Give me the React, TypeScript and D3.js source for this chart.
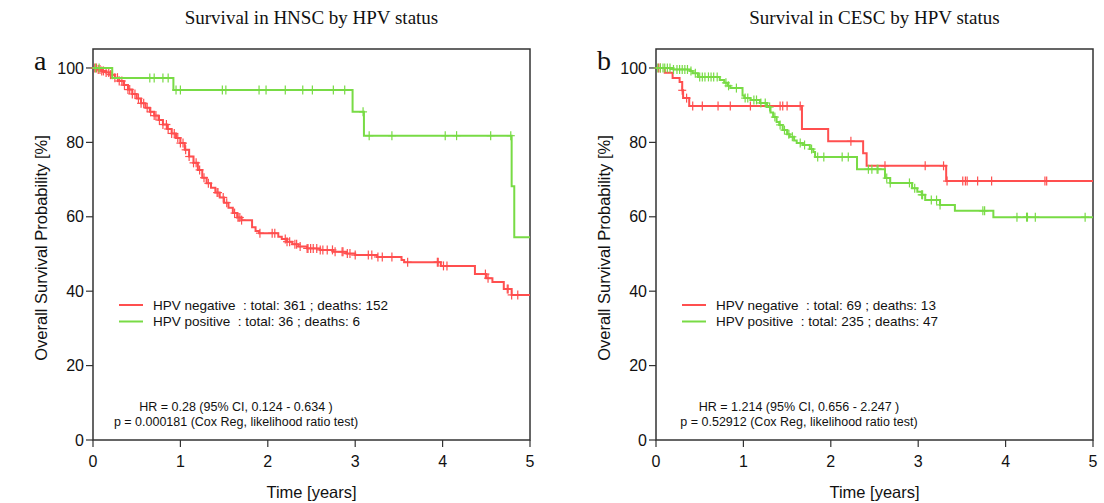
import React from "react";
import * as d3 from "d3";

// ---------- data ----------
const xTicks = [0, 1, 2, 3, 4, 5];
const yTicks = [0, 20, 40, 60, 80, 100];

// HNSC panel
const hnscNegSteps: [number, number][] = [
  [0, 100], [0.05, 99.6], [0.1, 99.2], [0.15, 98.8], [0.2, 98.2], [0.25, 97.4], [0.3, 96.5],
  [0.35, 95.4], [0.4, 94.2], [0.45, 93], [0.5, 91.8], [0.55, 90.5], [0.6, 89.3], [0.65, 88.2],
  [0.7, 87.2], [0.75, 86], [0.8, 84.8], [0.85, 83.6], [0.9, 82.4], [0.95, 81.2], [1.0, 79.8],
  [1.05, 78], [1.1, 76.2], [1.15, 74.5], [1.2, 72.6], [1.25, 70.5], [1.3, 69], [1.35, 67.8],
  [1.4, 66.5], [1.45, 65.2], [1.5, 63.8], [1.55, 62.4], [1.6, 61], [1.65, 59.8], [1.7, 59.1],
  [1.82, 57.2], [1.86, 56.2], [1.9, 55.6], [2.12, 54.6], [2.16, 54.0], [2.22, 53.3], [2.28, 52.6],
  [2.35, 52], [2.45, 51.5], [2.6, 51.1], [2.75, 50.6], [2.9, 50.1], [3.0, 49.7], [3.25, 49.2],
  [3.53, 48.4], [3.56, 47.8], [3.98, 46.8], [4.37, 44.6], [4.5, 43.5], [4.57, 42.5], [4.7, 40.6],
  [4.79, 39],
];
const hnscNegCensor = [
  0.02, 0.04, 0.06, 0.08, 0.1, 0.12, 0.15, 0.18, 0.2, 0.22, 0.25, 0.28, 0.3, 0.33, 0.36, 0.4,
  0.42, 0.45, 0.48, 0.52, 0.55, 0.58, 0.62, 0.66, 0.7, 0.72, 0.76, 0.8, 0.84, 0.86, 0.9, 0.93,
  0.97, 1.0, 1.03, 1.06, 1.1, 1.15, 1.18, 1.22, 1.27, 1.32, 1.42, 1.43, 1.49, 1.53, 1.62, 1.66,
  1.68, 1.7, 1.91, 2.05, 2.08, 2.2, 2.22, 2.25, 2.31, 2.33, 2.37, 2.45, 2.46, 2.49, 2.52, 2.56,
  2.6, 2.63, 2.68, 2.74, 2.77, 2.85, 2.86, 2.91, 2.94, 3.0, 3.15, 3.19, 3.26, 3.31, 3.42, 3.6,
  3.94, 3.95, 4.01, 4.05, 4.49, 4.52, 4.74, 4.75, 4.79, 4.86,
];
const hnscPosSteps: [number, number][] = [
  [0, 100], [0.22, 97.3], [0.92, 94.1], [2.97, 88.2], [3.1, 81.8], [4.79, 68.2], [4.82, 54.5],
];
const hnscPosCensor = [
  0.03, 0.07, 0.65, 0.7, 0.8, 0.86, 0.95, 1.0, 1.48, 1.52, 1.9, 1.98, 2.2, 2.4, 2.51, 2.75, 2.88,
  3.09, 3.16, 3.42, 4.03, 4.16, 4.55, 4.78,
];

// CESC panel
const cescNegSteps: [number, number][] = [
  [0, 100], [0.1, 98.7], [0.19, 97.3], [0.27, 96.2], [0.3, 94], [0.31, 91.9], [0.38, 89.8],
  [1.67, 83.6], [1.97, 80.3], [2.37, 77.1], [2.41, 73.7], [3.32, 69.6],
];
const cescNegCensor = [
  0.03, 0.05, 0.3, 0.35, 0.42, 0.53, 0.71, 0.85, 1.08, 1.42, 1.45, 1.5, 1.65, 2.23, 2.62, 3.08,
  3.29, 3.33, 3.51, 3.54, 3.56, 3.68, 3.84, 4.45, 4.47,
];
const cescPosSteps: [number, number][] = [
  [0, 100], [0.2, 99.6], [0.39, 99.2], [0.42, 98.6], [0.48, 97.6], [0.73, 96.8], [0.78, 96],
  [0.82, 95.2], [0.85, 94.6], [0.99, 92.6], [1.01, 91.9], [1.08, 91.4], [1.19, 90.6], [1.27, 89.5],
  [1.31, 88], [1.34, 86.8], [1.38, 85.5], [1.41, 84.7], [1.45, 83.3], [1.5, 82.2], [1.53, 81.5],
  [1.58, 80.5], [1.61, 79.8], [1.68, 79.3], [1.76, 78.2], [1.8, 77.4], [1.82, 76.1], [2.3, 72.8],
  [2.62, 70.4], [2.68, 69.1], [2.93, 67.7], [2.99, 66.7], [3.04, 65.9], [3.08, 64.5], [3.25, 63.2],
  [3.42, 61.6], [3.86, 59.9],
];
const cescPosCensor = [
  0.02, 0.05, 0.08, 0.1, 0.13, 0.16, 0.2, 0.24, 0.27, 0.3, 0.33, 0.36, 0.4, 0.45, 0.5, 0.53,
  0.56, 0.6, 0.63, 0.66, 0.7, 0.8, 0.83, 0.92, 1.02, 1.05, 1.12, 1.15, 1.2, 1.25, 1.3, 1.36,
  1.42, 1.47, 1.52, 1.56, 1.65, 1.7, 1.78, 1.85, 1.92, 2.13, 2.2, 2.43, 2.47, 2.53, 2.54, 2.64,
  2.68, 2.9, 2.96, 3.04, 3.05, 3.15, 3.21, 3.25, 3.74, 3.76, 4.13, 4.24, 4.25, 4.34, 4.91,
];

const hnscLegend = [
  "HPV negative  : total: 361 ; deaths: 152",
  "HPV positive  : total: 36 ; deaths: 6",
];
const cescLegend = [
  "HPV negative  : total: 69 ; deaths: 13",
  "HPV positive  : total: 235 ; deaths: 47",
];

const RED = "#ff4f4f";
const GREEN = "#78db45";
const SANS = "'Liberation Sans', Arial, Helvetica, sans-serif";
const SERIF = "'Liberation Serif', 'Times New Roman', serif";

type Series = { steps: [number, number][]; censor: number[]; color: string };

function Panel(props: {
  left: number;
  title: string;
  letter: string;
  series: Series[];
  legend: string[];
  hr: string;
  p: string;
}) {
  const { left, title, letter, series, legend, hr, p } = props;
  const x = d3.scaleLinear().domain([0, 5]).range([left, left + 437]);
  const y = d3.scaleLinear().domain([0, 105.1]).range([440, 49]);
  const line = d3
    .line<[number, number]>()
    .x((d) => x(d[0]))
    .y((d) => y(d[1]))
    .curve(d3.curveStepAfter);
  const bis = d3.bisector((d: [number, number]) => d[0]).right;
  const cx = (x(0) + x(5)) / 2;
  const legendX = left + 26;
  return (
    <g>
      <text x={cx} y={24} textAnchor="middle" fontFamily={SERIF} fontSize={19} fill="#111">
        {title}
      </text>
      <text x={left - 59} y={70} fontFamily={SERIF} fontSize={28} fill="#111">
        {letter}
      </text>
      <rect x={x(0)} y={y(105.1)} width={x(5) - x(0)} height={y(0) - y(105.1)} fill="none" stroke="#333" strokeWidth={1.5} />
      {yTicks.map((t) => (
        <g key={"y" + t}>
          <line x1={x(0) - 7} x2={x(0)} y1={y(t)} y2={y(t)} stroke="#333" strokeWidth={1.2} />
          <text x={x(0) - 9} y={y(t)} dy="0.35em" textAnchor="end" fontFamily={SANS} fontSize={16} fill="#111">
            {t}
          </text>
        </g>
      ))}
      {xTicks.map((t) => (
        <g key={"x" + t}>
          <line x1={x(t)} x2={x(t)} y1={y(0)} y2={y(0) + 7} stroke="#333" strokeWidth={1.2} />
          <text x={x(t)} y={467} textAnchor="middle" fontFamily={SANS} fontSize={16} fill="#111">
            {t}
          </text>
        </g>
      ))}
      <text x={cx} y={498} textAnchor="middle" fontFamily={SANS} fontSize={16.5} fill="#111">
        Time [years]
      </text>
      <text
        transform={`translate(${left - 46},${248}) rotate(-90)`}
        textAnchor="middle"
        fontFamily={SANS}
        fontSize={16.5}
        fill="#111"
      >
        Overall Survival Probability [%]
      </text>
      {series.map((s, i) => {
        const pts: [number, number][] = [...s.steps, [5, s.steps[s.steps.length - 1][1]]];
        return (
          <g key={"s" + i}>
            <path d={line(pts) || ""} fill="none" stroke={s.color} strokeWidth={2} />
            {s.censor.map((c, j) => {
              const v = s.steps[Math.max(0, bis(s.steps, c) - 1)][1];
              const px = x(c);
              const py = y(v);
              return (
                <g key={j} stroke={s.color} strokeWidth={1.2}>
                  <line x1={px} x2={px} y1={py - 4.5} y2={py + 4.5} />
                  <line x1={px - 4} x2={px + 4} y1={py} y2={py} />
                </g>
              );
            })}
          </g>
        );
      })}
      {legend.map((t, i) => (
        <g key={"l" + i}>
          <line x1={legendX} x2={legendX + 24} y1={305 + i * 16.5} y2={305 + i * 16.5} stroke={i === 0 ? RED : GREEN} strokeWidth={2} />
          <text
            x={legendX + 34}
            y={305 + i * 16.5}
            dy="0.35em"
            fontFamily={SANS}
            fontSize={13.5}
            fill="#111"
            style={{ whiteSpace: "pre" }}
          >
            {t}
          </text>
        </g>
      ))}
      <text x={left + 143} y={407} dy="0.35em" textAnchor="middle" fontFamily={SANS} fontSize={12.5} fill="#111">
        {hr}
      </text>
      <text x={left + 143} y={422} dy="0.35em" textAnchor="middle" fontFamily={SANS} fontSize={12.5} fill="#111">
        {p}
      </text>
    </g>
  );
}

export default function App() {
  return (
    <svg width={1104} height={503} style={{ position: "absolute", left: 0, top: 0, background: "#fff" }}>
      <rect width={1104} height={503} fill="#fff" />
      <Panel
        left={93}
        title="Survival in HNSC by HPV status"
        letter="a"
        series={[
          { steps: hnscNegSteps, censor: hnscNegCensor, color: RED },
          { steps: hnscPosSteps, censor: hnscPosCensor, color: GREEN },
        ]}
        legend={hnscLegend}
        hr="HR = 0.28 (95% CI, 0.124 - 0.634 )"
        p="p = 0.000181 (Cox Reg, likelihood ratio test)"
      />
      <Panel
        left={656}
        title="Survival in CESC by HPV status"
        letter="b"
        series={[
          { steps: cescNegSteps, censor: cescNegCensor, color: RED },
          { steps: cescPosSteps, censor: cescPosCensor, color: GREEN },
        ]}
        legend={cescLegend}
        hr="HR = 1.214 (95% CI, 0.656 - 2.247 )"
        p="p = 0.52912 (Cox Reg, likelihood ratio test)"
      />
    </svg>
  );
}
